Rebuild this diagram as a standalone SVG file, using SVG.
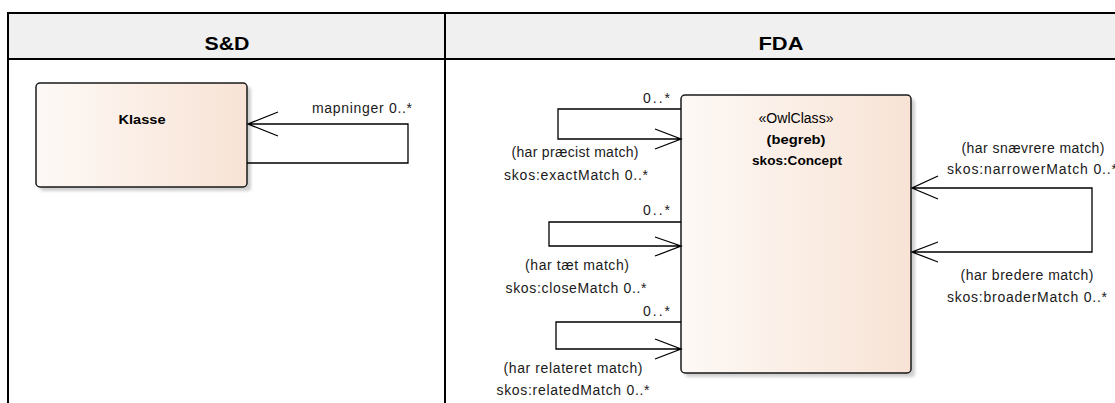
<svg xmlns="http://www.w3.org/2000/svg" width="1115" height="403" viewBox="0 0 1115 403">
<style>
.hdr{font-family:"Liberation Sans",Arial,sans-serif;font-size:19px;font-weight:bold;fill:#000;text-anchor:middle}
.lbl{font-family:"Liberation Sans",Arial,sans-serif;font-size:14px;fill:#1a1a1a}
.mid{text-anchor:middle}
.end{text-anchor:end}
.nm{font-family:"Liberation Sans",Arial,sans-serif;font-size:13.5px;font-weight:bold;fill:#000;text-anchor:middle}
.st{font-family:"Liberation Sans",Arial,sans-serif;font-size:14px;fill:#000;text-anchor:middle}
.box{fill:url(#g);stroke:#1a1a1a;stroke-width:1.5}
.shadow{fill:#cfcfcf;filter:url(#blur)}
.conn{fill:none;stroke:#000;stroke-width:1.3}
.grid{stroke:#000;stroke-width:2;fill:none}
</style>
<defs>
<linearGradient id="g" x1="0" y1="0" x2="1" y2="0">
<stop offset="0" stop-color="#fdf9f6"/>
<stop offset="1" stop-color="#f8e3d5"/>
</linearGradient>
<filter id="blur" x="-10%" y="-10%" width="120%" height="120%"><feGaussianBlur stdDeviation="1.5"/></filter>
</defs>
<rect x="0" y="0" width="1115" height="403" fill="#fff"/>
<g id="table">
<rect x="8" y="13" width="1120" height="46" fill="#f0f0f0"/>
<path class="grid" d="M8,403 V13 H1115 M8,59 H1115 M445,13 V403"/>
<text class="hdr" x="227" y="50" textLength="45" lengthAdjust="spacingAndGlyphs">S&amp;D</text>
<text class="hdr" x="781" y="50" textLength="45" lengthAdjust="spacingAndGlyphs">FDA</text>
</g>
<g id="node-klasse">
<rect class="shadow" x="40" y="87" width="211" height="104" rx="4"/>
<rect class="box" x="36" y="83" width="211" height="104" rx="4"/>
<text class="nm" x="142" y="124" textLength="47" lengthAdjust="spacingAndGlyphs">Klasse</text>
</g>
<g id="node-concept">
<rect class="shadow" x="685" y="99" width="230" height="278" rx="4"/>
<rect class="box" x="681" y="95" width="230" height="278" rx="4"/>
<text class="st" x="796" y="123" textLength="75" lengthAdjust="spacingAndGlyphs">«OwlClass»</text>
<text class="nm" x="796" y="144" textLength="59" lengthAdjust="spacingAndGlyphs">(begreb)</text>
<text class="nm" x="797" y="165" textLength="90" lengthAdjust="spacingAndGlyphs">skos:Concept</text>
</g>
<g id="connectors">
<path class="conn" d="M247,163 H408 V124 H248 M278,112 L248,124 L278,136"/>
<text class="lbl end" x="412" y="113" textLength="100" lengthAdjust="spacing">mapninger 0..*</text>

<path class="conn" d="M681,109 H558 V139 H681 M655,129 L681,139 L655,149"/>
<text class="lbl end" x="670" y="103" textLength="27" lengthAdjust="spacing">0..*</text>
<text class="lbl mid" x="575" y="157" textLength="127" lengthAdjust="spacing">(har præcist match)</text>
<text class="lbl mid" x="576" y="180" textLength="144" lengthAdjust="spacing">skos:exactMatch 0..*</text>

<path class="conn" d="M681,222 H549 V246 H681 M655,237 L681,246 L655,256"/>
<text class="lbl end" x="670" y="215" textLength="27" lengthAdjust="spacing">0..*</text>
<text class="lbl mid" x="577" y="270" textLength="104" lengthAdjust="spacing">(har tæt match)</text>
<text class="lbl mid" x="576" y="293" textLength="141" lengthAdjust="spacing">skos:closeMatch 0..*</text>

<path class="conn" d="M681,322 H556 V349 H681 M655,339 L681,349 L655,359"/>
<text class="lbl end" x="670" y="316" textLength="27" lengthAdjust="spacing">0..*</text>
<text class="lbl mid" x="573" y="373" textLength="139" lengthAdjust="spacing">(har relateret match)</text>
<text class="lbl mid" x="573" y="395" textLength="153" lengthAdjust="spacing">skos:relatedMatch 0..*</text>

<path class="conn" d="M912,188 H1092 V252 H912 M938,176 L912,188 L938,199 M938,242 L912,252 L938,262"/>
<text class="lbl mid" x="1033" y="153" textLength="143" lengthAdjust="spacing">(har snævrere match)</text>
<text class="lbl" x="947" y="174" textLength="170" lengthAdjust="spacing">skos:narrowerMatch 0..*</text>
<text class="lbl mid" x="1027" y="280" textLength="133" lengthAdjust="spacing">(har bredere match)</text>
<text class="lbl mid" x="1027" y="302" textLength="160" lengthAdjust="spacing">skos:broaderMatch 0..*</text>
</g>
</svg>
